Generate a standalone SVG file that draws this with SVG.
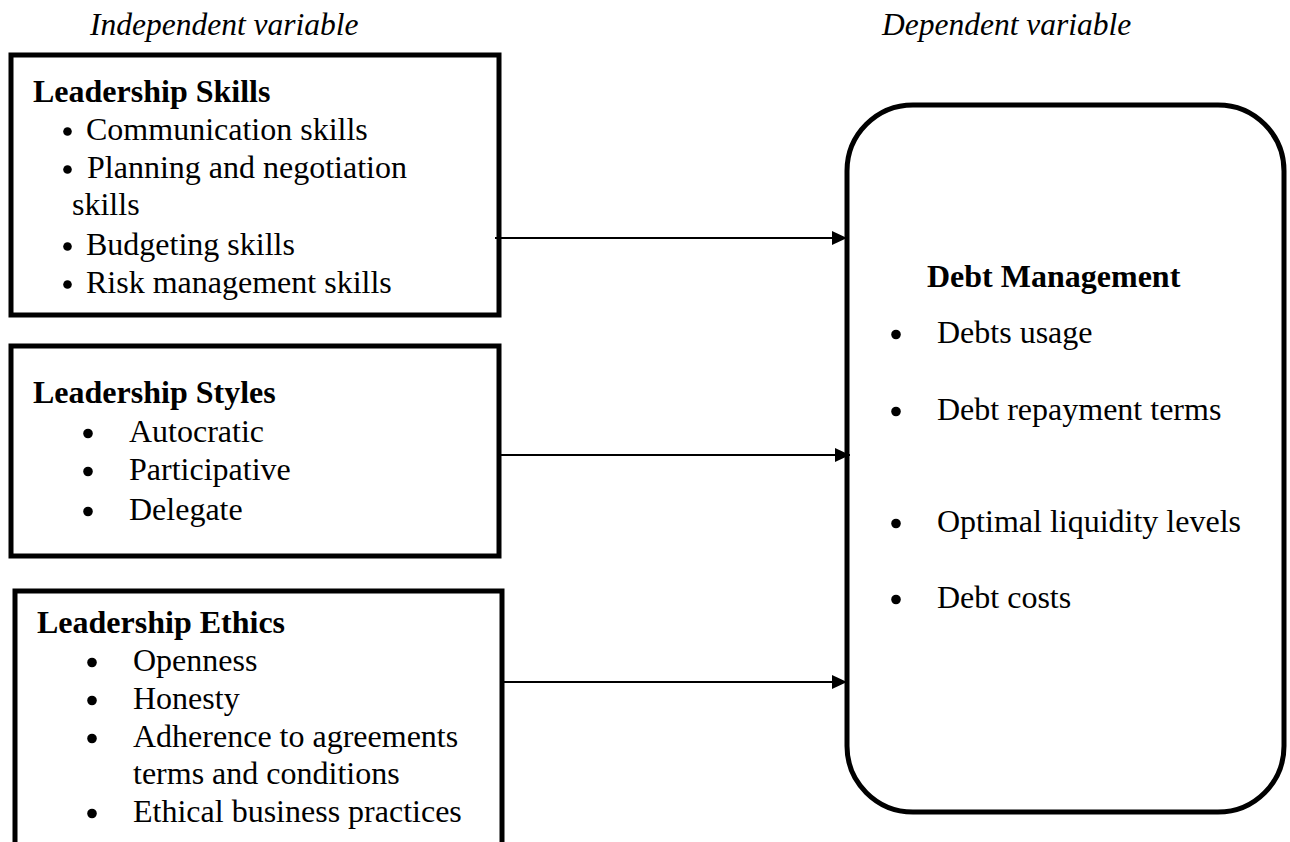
<svg xmlns="http://www.w3.org/2000/svg" width="1290" height="842" viewBox="0 0 1290 842">
<defs>
<style>
.box{fill:#fff;stroke:#000;stroke-width:5}
.t{font-family:"Liberation Serif","Times New Roman",serif;font-size:32px;fill:#000}
.b{font-weight:bold}
.i{font-style:italic;font-size:31.5px}
.dot{fill:#000}
.conn{stroke:#000;stroke-width:2;fill:none}
</style>
<marker id="ah" markerUnits="userSpaceOnUse" markerWidth="16" markerHeight="16" viewBox="0 0 16 16" refX="15" refY="8" orient="auto">
<path d="M0,1 L15,8 L0,15 Z" fill="#000"/>
</marker>
</defs>
<rect width="1290" height="842" fill="#fff"/>
<text class="t i" x="90" y="35">Independent variable</text>
<text class="t i" x="882" y="35">Dependent variable</text>

<g id="leadership-skills">
<rect class="box" x="11" y="55" width="488" height="260"/>
<text class="t b" x="33" y="102">Leadership Skills</text>
<circle class="dot" cx="67.5" cy="131.5" r="4.3"/><text class="t" x="86" y="140">Communication skills</text>
<circle class="dot" cx="67.5" cy="169.5" r="4.3"/><text class="t" x="87" y="178">Planning and negotiation</text>
<text class="t" x="72" y="215">skills</text>
<circle class="dot" cx="67.5" cy="246.5" r="4.3"/><text class="t" x="86" y="255">Budgeting skills</text>
<circle class="dot" cx="67.5" cy="284.5" r="4.3"/><text class="t" x="86" y="293">Risk management skills</text>
</g>

<g id="leadership-styles">
<rect class="box" x="11" y="346" width="488" height="210"/>
<text class="t b" x="33" y="403">Leadership Styles</text>
<circle class="dot" cx="88" cy="433.5" r="4.8"/><text class="t" x="129" y="442">Autocratic</text>
<circle class="dot" cx="88" cy="471.5" r="4.8"/><text class="t" x="129" y="480">Participative</text>
<circle class="dot" cx="88" cy="511.5" r="4.8"/><text class="t" x="129" y="520">Delegate</text>
</g>

<g id="leadership-ethics">
<rect class="box" x="15" y="591" width="487" height="270"/>
<text class="t b" x="37" y="633">Leadership Ethics</text>
<circle class="dot" cx="92" cy="662.5" r="4.8"/><text class="t" x="133" y="671">Openness</text>
<circle class="dot" cx="92" cy="700.5" r="4.8"/><text class="t" x="133" y="709">Honesty</text>
<circle class="dot" cx="92" cy="738.5" r="4.8"/><text class="t" x="133" y="747">Adherence to agreements</text>
<text class="t" x="133" y="784">terms and conditions</text>
<circle class="dot" cx="92" cy="813.5" r="4.8"/><text class="t" x="133" y="822">Ethical business practices</text>
</g>

<g id="debt-management">
<rect class="box" x="847" y="105" width="437" height="707" rx="66" ry="66"/>
<text class="t b" x="927" y="287">Debt Management</text>
<circle class="dot" cx="896" cy="334.5" r="4.8"/><text class="t" x="937" y="343">Debts usage</text>
<circle class="dot" cx="896" cy="411.5" r="4.8"/><text class="t" x="937" y="420">Debt repayment terms</text>
<circle class="dot" cx="896" cy="523.5" r="4.8"/><text class="t" x="937" y="532">Optimal liquidity levels</text>
<circle class="dot" cx="896" cy="599.5" r="4.8"/><text class="t" x="937" y="608">Debt costs</text>
</g>

<g id="connectors">
<line class="conn" x1="495" y1="238" x2="847" y2="238" marker-end="url(#ah)"/>
<line class="conn" x1="500" y1="455" x2="850" y2="455" marker-end="url(#ah)"/>
<line class="conn" x1="500" y1="682" x2="847" y2="682" marker-end="url(#ah)"/>
</g>
</svg>
